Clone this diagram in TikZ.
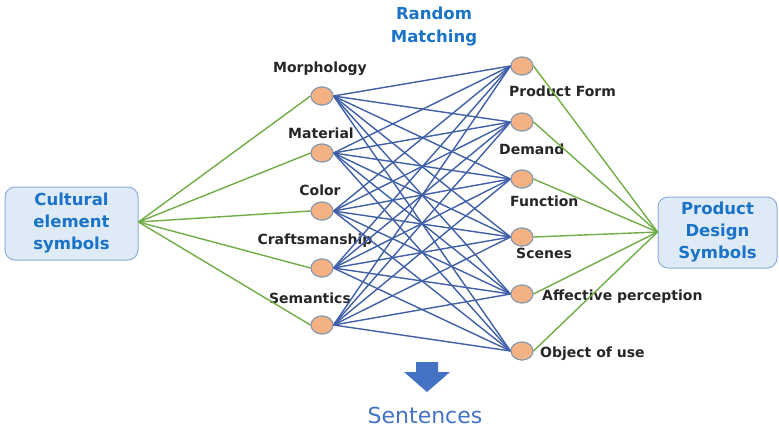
\documentclass[tikz,border=0pt]{standalone}
\usepackage{fontspec}
\setmainfont{DejaVu Sans}
\usetikzlibrary{shapes.geometric}
\definecolor{boxfill}{HTML}{DEEBF7}
\definecolor{boxdraw}{HTML}{8FAADC}
\definecolor{txtblue}{HTML}{1A73C8}
\definecolor{nodefill}{HTML}{F4B183}
\definecolor{nodedraw}{HTML}{8497B0}
\definecolor{linkblue}{HTML}{3F5FA8}
\definecolor{linkgreen}{HTML}{70AD47}
\definecolor{arrowblue}{HTML}{4472C4}
\tikzset{
  dot/.style={ellipse, fill=nodefill, draw=nodedraw, line width=1pt, minimum width=22pt, minimum height=18pt, inner sep=0pt},
  lbl/.style={font=\fontsize{14}{16}\selectfont\bfseries, text=black!85, inner sep=0pt},
  rlbl/.style={lbl, anchor=west},
  bigbox/.style={rounded corners=10pt, fill=boxfill, draw=boxdraw, line width=1pt, align=center, text=txtblue, font=\fontsize{16.5}{22}\selectfont\bfseries, inner sep=0pt},
  bl/.style={draw=linkblue, line width=1.4pt},
  gl/.style={draw=linkgreen, line width=1.4pt}
}
\begin{document}
\begin{tikzpicture}[x=1pt,y=-1pt]
\useasboundingbox (0,0) rectangle (779,429);
% boxes
\node[bigbox, minimum width=133pt, minimum height=73pt] (cult) at (71.5,223.5) {Cultural\\element\\symbols};
\node[bigbox, minimum width=119pt, minimum height=71pt] (prod) at (717.5,232.5) {Product\\Design\\Symbols};
% left nodes
\node[dot] (l1) at (322,96) {};
\node[dot] (l2) at (322,153) {};
\node[dot] (l3) at (322,211) {};
\node[dot] (l4) at (322,268) {};
\node[dot] (l5) at (322,325) {};
% right nodes
\node[dot] (r1) at (522,66) {};
\node[dot] (r2) at (522,122) {};
\node[dot] (r3) at (522,179) {};
\node[dot] (r4) at (522,237) {};
\node[dot] (r5) at (522,294) {};
\node[dot] (r6) at (522,351) {};
% labels
\node[lbl] (t1) at (320,69) {Morphology};
\node[lbl] (t2) at (321,133) {Material};
\node[lbl] (t3) at (320,190) {Color};
\node[lbl] (t4) at (315,241) {Craftsmanship};
\node[lbl] (t5) at (310,298) {Semantics};
\node[rlbl] (u1) at (509,91) {Product Form};
\node[rlbl] (u2) at (499,149) {Demand};
\node[rlbl] (u3) at (510,201) {Function};
\node[rlbl] (u4) at (516,253) {Scenes};
\node[rlbl] (u5) at (542,297) {Affective perception};
\node[rlbl] (u6) at (540,354) {Object of use};
% title
\node[font=\fontsize{16.5}{23}\selectfont\bfseries, text=txtblue, align=center, inner sep=0pt] (rm) at (434,27) {Random\\Matching};
% blue links
\foreach \i in {1,...,5}{
  \foreach \j in {1,...,6}{
    \draw[bl] (l\i.east) -- (r\j.west);
  }
}
% green links
\coordinate (cl) at (138,222);
\coordinate (cr) at (658,232);
\foreach \i in {1,...,5}{ \draw[gl] (cult.east |- cl) -- (l\i.west); }
\foreach \j in {1,...,6}{ \draw[gl] (r\j.east) -- (prod.west |- cr); }
% redraw nodes on top
\foreach \i/\y in {1/96,2/153,3/211,4/268,5/325}{ \node[dot] at (322,\y) {}; }
\foreach \j/\y in {1/66,2/122,3/179,4/237,5/294,6/351}{ \node[dot] at (522,\y) {}; }
% down arrow
\fill[arrowblue] (416,362) -- (438,362) -- (438,372) -- (450,372) -- (427,392) -- (404,372) -- (416,372) -- cycle;
\node[font=\fontsize{22}{26}\selectfont, text=arrowblue, inner sep=0pt] (sent) at (425,415) {Sentences};
\end{tikzpicture}
\end{document}
